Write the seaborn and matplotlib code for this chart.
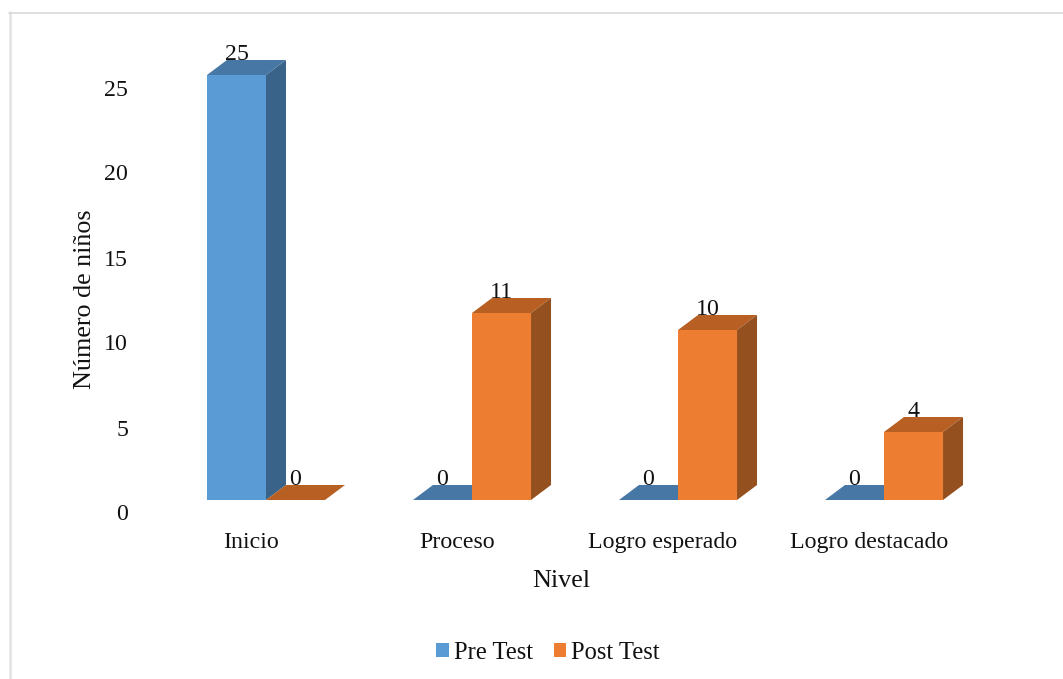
import matplotlib
matplotlib.use("Agg")
import matplotlib.pyplot as plt
from matplotlib.lines import Line2D
from matplotlib.patches import Polygon, Patch
from matplotlib.transforms import ScaledTranslation
import pandas as pd
import seaborn as sns

categories = ["Inicio", "Proceso", "Logro esperado", "Logro destacado"]
pre_test = [25, 0, 0, 0]
post_test = [0, 11, 10, 4]
series_names = ["Pre Test", "Post Test"]
y_ticks = [0, 5, 10, 15, 20, 25]

front_colors = ["#5B9BD5", "#ED7D31"]
top_colors = ["#4677A5", "#B86023"]
side_colors = ["#3A6389", "#95501F"]

W, H, DPI = 1063, 679, 100
AX_LEFT, AX_RIGHT, AX_BASE, AX_TOP = 163, 987, 500, 75
DEPTH_X, DEPTH_Y = 20, 15  # oblique depth of the bars, in pixels
FS = 17.2
FS_TITLE = 18.8
FS_LEGEND = 17.7

sns.set_theme(style="white")
plt.rcParams["font.family"] = ["Liberation Serif", "DejaVu Serif"]

fig = plt.figure(figsize=(W / DPI, H / DPI), dpi=DPI)
ax = fig.add_axes([AX_LEFT / W, 1 - AX_BASE / H, (AX_RIGHT - AX_LEFT) / W, (AX_BASE - AX_TOP) / H])

df = pd.DataFrame({
    "Nivel": categories * 2,
    "Serie": [series_names[0]] * 4 + [series_names[1]] * 4,
    "Valor": pre_test + post_test,
})
sns.barplot(data=df, x="Nivel", y="Valor", hue="Serie", order=categories, hue_order=series_names,
            palette=front_colors, width=0.573, gap=0, saturation=1, ax=ax, legend=False, linewidth=0)

ax.set_xlim(-0.5, 3.5)
ax.set_ylim(0, 25)
sns.despine(ax=ax, left=True, bottom=True, top=True, right=True)

# Extrude each bar obliquely: top face and right-hand side face.
# Later series stack above earlier ones so a neighbour's front hides flat bars.
px_x = (AX_RIGHT - AX_LEFT) / 4
px_y = (AX_BASE - AX_TOP) / 25
dx, dy = DEPTH_X / px_x, DEPTH_Y / px_y
for s, container in enumerate(ax.containers):
    for bar, value in zip(container.patches, [pre_test, post_test][s]):
        bar.set_zorder(3 + 2 * s + 1)
        x0 = bar.get_x()
        x1 = x0 + bar.get_width()
        h = value
        top = Polygon([(x0, h), (x1, h), (x1 + dx, h + dy), (x0 + dx, h + dy)],
                      closed=True, fc=top_colors[s], ec="none", clip_on=False, zorder=3 + 2 * s)
        ax.add_patch(top)
        if h > 0:
            side = Polygon([(x1, 0), (x1 + dx, dy), (x1 + dx, h + dy), (x1, h)],
                           closed=True, fc=side_colors[s], ec="none", clip_on=False, zorder=3 + 2 * s)
            ax.add_patch(side)
        ax.annotate(str(value), (x0 + bar.get_width() / 2, h), xytext=(0, 15 * 72 / DPI),
                    textcoords="offset points", ha="center", va="baseline",
                    fontsize=FS, color="#111111", zorder=8, annotation_clip=False)

# Tick labels sit away from the tick positions, as in the oblique chart frame
ax.set_yticks(y_ticks)
ax.set_yticklabels([str(t) for t in y_ticks], fontsize=FS, color="#111111")
ax.set_xticks(range(4))
ax.set_xticklabels(categories, fontsize=FS, color="#111111")
ax.tick_params(axis="both", length=0, pad=0)
for lab in ax.get_yticklabels():
    lab.set_transform(lab.get_transform() + ScaledTranslation(-35 / DPI, -15 / DPI, fig.dpi_scale_trans))
    lab.set_verticalalignment("center")
for lab in ax.get_xticklabels():
    lab.set_transform(lab.get_transform() + ScaledTranslation(-15 / DPI, -32 / DPI, fig.dpi_scale_trans))

fig.text(561 / W, 1 - 581 / H, "Nivel", ha="center", va="center", fontsize=FS_TITLE, color="#111111")
fig.text(85 / W, 1 - 299.5 / H, "Número de niños", rotation=90, ha="center", va="center",
         fontsize=FS_TITLE, color="#111111")
ax.set_xlabel("")
ax.set_ylabel("")

handles = [Patch(fc=c, ec="none") for c in front_colors]
fig.legend(handles, series_names, loc="center", bbox_to_anchor=(548 / W, 1 - 653 / H), ncol=2,
           frameon=False, fontsize=FS_LEGEND, handlelength=0.5, handleheight=0.5,
           handletextpad=0.2, columnspacing=0.85, labelcolor="#111111")

# Thin grey frame around the chart area
fig.add_artist(Line2D([9.5 / W, 9.5 / W], [0, 1 - 12 / H], color="#E2E2E2", lw=1.8, transform=fig.transFigure))
fig.add_artist(Line2D([9 / W, 1], [1 - 12.5 / H, 1 - 12.5 / H], color="#D9D9D9", lw=1.2, transform=fig.transFigure))

fig.savefig("out.png", dpi=DPI)
